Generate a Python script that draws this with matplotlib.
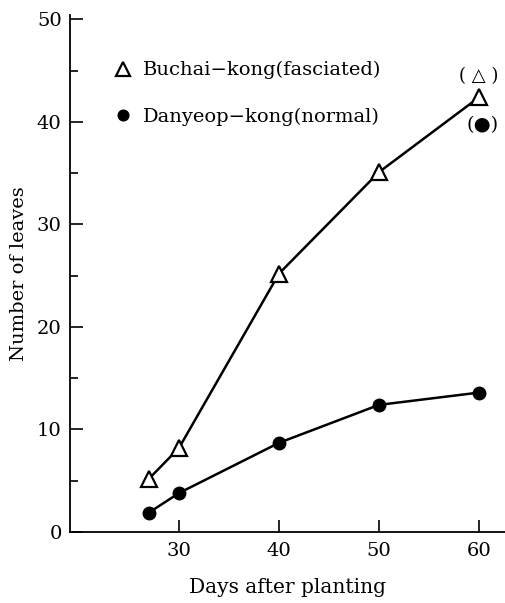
import matplotlib
matplotlib.use("Agg")
import matplotlib.pyplot as plt

days = [27, 30, 40, 50, 60]
buchai = [5.2, 8.2, 25.2, 35.1, 42.4]
danyeop = [1.9, 3.8, 8.7, 12.4, 13.6]
xticks = [30, 40, 50, 60]
yticks = [0, 10, 20, 30, 40, 50]
yminor = [5, 15, 25, 35, 45]
labels = ["Buchai\u2212kong(fasciated)", "Danyeop\u2212kong(normal)"]

plt.rcParams['font.family'] = ['DejaVu Serif', 'DejaVu Sans']

fig = plt.figure(figsize=(5.05, 6.03), dpi=100)
ax = fig.add_axes([0.1386, 0.1177, 0.8614, 0.857])

ax.plot(days, buchai, color='black', lw=1.8, marker='^', ms=11.5,
        mfc='white', mec='black', mew=1.6, label=labels[0], zorder=3)
ax.plot(days, danyeop, color='black', lw=1.8, marker='o', ms=9,
        mfc='black', mec='black', label=labels[1], zorder=3)

ax.set_xlim(19.1, 62.6)
ax.set_ylim(0, 50.4)
ax.spines['top'].set_visible(False)
ax.spines['right'].set_visible(False)
ax.spines['left'].set_linewidth(1.3)
ax.spines['bottom'].set_linewidth(1.3)

ax.set_xticks(xticks)
ax.set_yticks(yticks)
ax.set_yticks(yminor, minor=True)
ax.tick_params(axis='both', which='major', direction='in', length=9, width=1.2,
               labelsize=14)
ax.tick_params(axis='y', which='minor', direction='in', length=6, width=1.2)
ax.tick_params(axis='y', pad=6)
ax.tick_params(axis='x', pad=7)

ax.set_xlabel("Days after planting", fontsize=14.5, labelpad=13)
ax.set_ylabel("Number of leaves", fontsize=14, labelpad=6)

leg = ax.legend(loc='upper left', bbox_to_anchor=(0.06, 0.945), frameon=False,
                fontsize=14, handlelength=1.0, handletextpad=0.5,
                labelspacing=1.45, numpoints=1, markerscale=0.85)
for h in leg.legend_handles:
    h.set_linestyle('None')

ax.text(60, 44.5, "( \u25b3 )", ha='center', va='center', fontsize=13)
ax.text(60.4, 39.7, "(\u25cf)", ha='center', va='center', fontsize=14)

fig.savefig("out.png", dpi=100)
